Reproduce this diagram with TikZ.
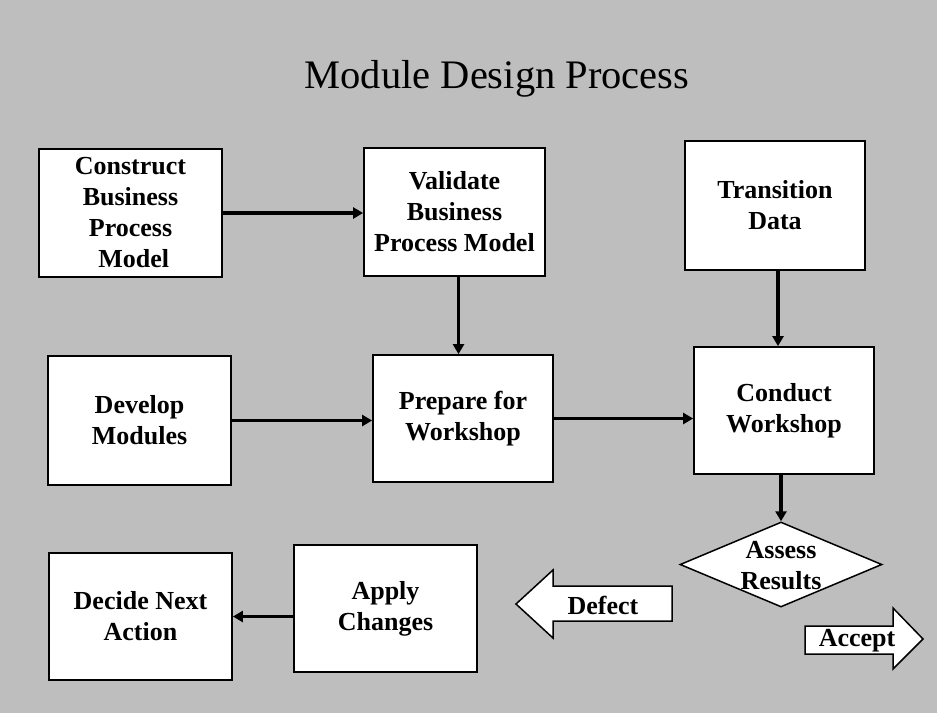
\documentclass[tikz,border=0pt]{standalone}
\usepackage{fontspec}
\setmainfont{Liberation Serif}
\usetikzlibrary{arrows.meta,shapes.geometric}
\definecolor{bgcol}{RGB}{190,190,190}
\tikzset{
  box/.style={draw=black, line width=1.8pt, fill=white, rectangle, inner sep=0pt,
    align=center, font=\fontsize{26}{31}\selectfont\bfseries},
  arr/.style={draw=black, line width=3.6pt, -{Triangle[length=10pt,width=11pt]}},
  blockarrow/.style={draw=black, line width=1.5pt, fill=white, line join=miter},
  lbl/.style={font=\fontsize{26}{31}\selectfont\bfseries, align=center, inner sep=0pt},
}
\begin{document}
\begin{tikzpicture}[x=1pt, y=-1pt]
  \fill[bgcol] (0,0) rectangle (937,713);
  \useasboundingbox (0,0) rectangle (937,713);

  \node[anchor=base, font=\fontsize{40.5}{46}\selectfont, inner sep=0pt] (title) at (497,88) {Module Design Process};

  \node[box, minimum width=183pt, minimum height=128pt] (construct) at (130.5,213) {Construct\\Business\\Process\\\ Model};
  \node[box, minimum width=181pt, minimum height=128pt] (validate) at (454.5,212) {Validate\\Business\\Process Model};
  \node[box, minimum width=180pt, minimum height=129pt] (transition) at (775,205.5) {Transition\\Data};
  \node[box, minimum width=183pt, minimum height=129pt] (develop) at (139.5,420.5) {Develop\\Modules};
  \node[box, minimum width=180pt, minimum height=127pt] (prepare) at (463,418.5) {Prepare for\\Workshop};
  \node[box, minimum width=180pt, minimum height=127pt] (conduct) at (784,410.5) {Conduct\\Workshop};
  \node[box, minimum width=183pt, minimum height=127pt] (decide) at (140.5,616.5) {\raisebox{-3pt}{Decide Next}\\\raisebox{-3pt}{Action}};
  \node[box, minimum width=183pt, minimum height=127pt] (apply) at (385.5,608.5) {\raisebox{-3pt}{Apply}\\\raisebox{-3pt}{Changes}};

  \node[diamond, draw=black, line width=1.5pt, fill=white, inner sep=0pt,
        minimum width=202pt, minimum height=85pt] (assess) at (781,564.5) {};
  \node[lbl] (assesstext) at (781,566) {Assess\\Results};

  % block arrows
  \draw[blockarrow] (516,604) -- (553,570) -- (553,586) -- (672,586) -- (672,621) -- (553,621) -- (553,638) -- cycle;
  \node[lbl] (defect) at (603,605) {Defect};
  \draw[blockarrow] (805,626) -- (893,626) -- (893,608) -- (923,639) -- (893,669) -- (893,654) -- (805,654) -- cycle;
  \node[lbl] (accept) at (857,641) {Accept};

  % connectors
  \draw[arr] (construct.east) -- (construct.east -| validate.west);
  \draw[arr] ([xshift=4pt]validate.south) -- ([xshift=4pt]validate.south |- prepare.north);
  \draw[arr] ([xshift=3pt]transition.south) -- ([xshift=3pt]transition.south |- conduct.north);
  \draw[arr] (develop.east) -- (develop.east -| prepare.west);
  \draw[arr] (prepare.east) -- (prepare.east -| conduct.west);
  \draw[arr] (assess.north |- conduct.south) -- (assess.north);
  \draw[arr] (apply.west |- decide.east) -- (decide.east);
\end{tikzpicture}
\end{document}
